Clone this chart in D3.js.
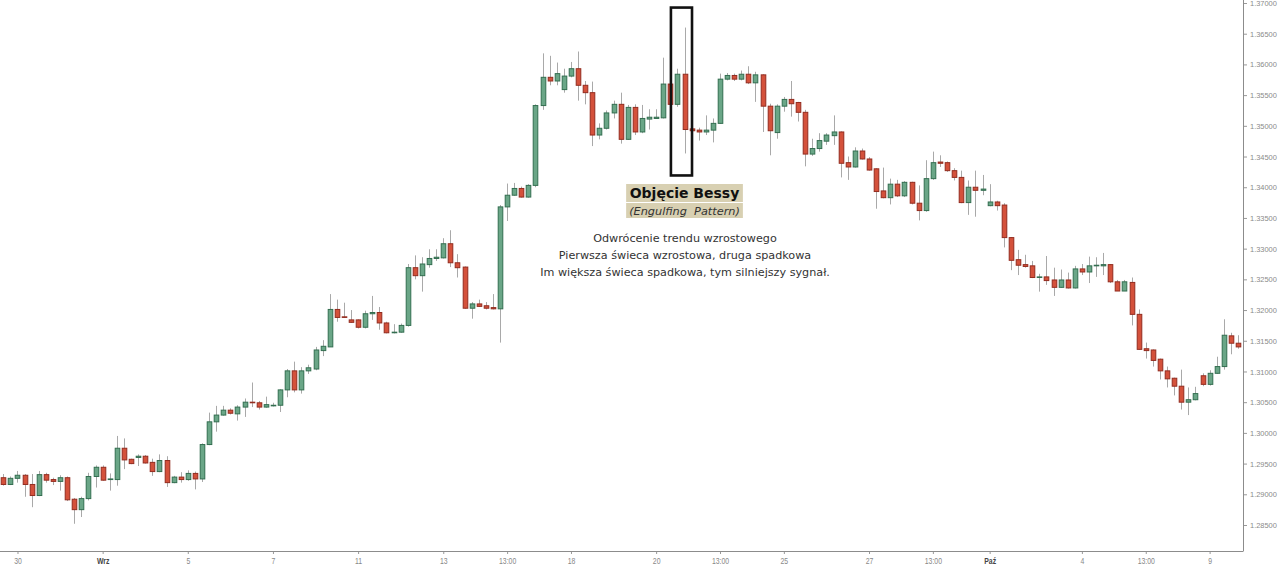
<!DOCTYPE html>
<html><head><meta charset="utf-8">
<script src="https://cdn.jsdelivr.net/npm/d3@7"></script>
<style>body{margin:0;background:#fff}svg{display:block}</style>
</head><body><svg id="c" width="1280" height="566"></svg>
<script>
const openP=[1.2927,1.2916,1.2926,1.2931,1.2916,1.2898,1.2932,1.2924,1.2921,1.2927,1.2892,1.2875,1.2893,1.2929,1.2944,1.2924,1.2924,1.2975,1.2957,1.2960,1.2962,1.2952,1.2937,1.2955,1.2919,1.2928,1.2924,1.2934,1.2925,1.2981,1.3018,1.3029,1.3037,1.3031,1.3042,1.3050,1.3049,1.3042,1.3044,1.3045,1.3070,1.3101,1.3070,1.3101,1.3104,1.3134,1.3140,1.3201,1.3189,1.3184,1.3184,1.3172,1.3194,1.3196,1.3179,1.3163,1.3164,1.3175,1.3269,1.3256,1.3274,1.3284,1.3285,1.3308,1.3277,1.3270,1.3203,1.3210,1.3207,1.3204,1.3202,1.3368,1.3387,1.3398,1.3384,1.3403,1.3533,1.3579,1.3573,1.3559,1.3581,1.3593,1.3566,1.3554,1.3485,1.3496,1.3521,1.3535,1.3478,1.3530,1.3490,1.3511,1.3512,1.3513,1.3568,1.3535,1.3584,1.3495,1.3493,1.3490,1.3493,1.3504,1.3576,1.3582,1.3576,1.3584,1.3570,1.3583,1.3532,1.3489,1.3532,1.3543,1.3538,1.3522,1.3454,1.3463,1.3475,1.3484,1.3490,1.3440,1.3433,1.3459,1.3446,1.3430,1.3394,1.3383,1.3405,1.3386,1.3408,1.3374,1.3362,1.3414,1.3441,1.3440,1.3427,1.3416,1.3375,1.3400,1.3395,1.3370,1.3376,1.3371,1.3318,1.3282,1.3274,1.3272,1.3253,1.3254,1.3249,1.3237,1.3249,1.3236,1.3267,1.3262,1.3272,1.3272,1.3274,1.3246,1.3231,1.3245,1.3193,1.3137,1.3135,1.3120,1.3101,1.3089,1.3076,1.3050,1.3054,1.3093,1.3079,1.3097,1.3108,1.3158,1.3146];
const highP=[1.2933,1.2929,1.2938,1.2933,1.2933,1.2938,1.2935,1.2927,1.2931,1.2929,1.2894,1.2896,1.2935,1.2947,1.2947,1.2934,1.2995,1.2991,1.2958,1.2965,1.2964,1.2958,1.2965,1.2962,1.2930,1.2936,1.2939,1.2937,1.2983,1.3033,1.3044,1.3044,1.3040,1.3045,1.3056,1.3082,1.3052,1.3059,1.3049,1.3071,1.3104,1.3116,1.3107,1.3111,1.3140,1.3151,1.3226,1.3217,1.3212,1.3200,1.3185,1.3199,1.3223,1.3205,1.3181,1.3177,1.3178,1.3275,1.3289,1.3286,1.3299,1.3299,1.3317,1.3330,1.3291,1.3271,1.3213,1.3217,1.3213,1.3226,1.3371,1.3406,1.3407,1.3401,1.3405,1.3535,1.3618,1.3614,1.3603,1.3593,1.3604,1.3621,1.3573,1.3572,1.3504,1.3525,1.3541,1.3554,1.3534,1.3535,1.3534,1.3527,1.3527,1.3611,1.3569,1.3593,1.3660,1.3496,1.3497,1.3517,1.3512,1.3585,1.3586,1.3585,1.3590,1.3597,1.3588,1.3584,1.3536,1.3535,1.3547,1.3573,1.3539,1.3526,1.3479,1.3488,1.3488,1.3517,1.3491,1.3450,1.3465,1.3463,1.3449,1.3431,1.3432,1.3414,1.3412,1.3410,1.3409,1.3403,1.3444,1.3458,1.3452,1.3442,1.3431,1.3427,1.3411,1.3427,1.3420,1.3405,1.3378,1.3374,1.3319,1.3298,1.3290,1.3280,1.3259,1.3288,1.3269,1.3266,1.3261,1.3272,1.3275,1.3287,1.3286,1.3293,1.3275,1.3249,1.3249,1.3253,1.3201,1.3147,1.3136,1.3121,1.3108,1.3090,1.3103,1.3074,1.3075,1.3097,1.3102,1.3124,1.3185,1.3163,1.3159];
const lowP=[1.2914,1.2915,1.2919,1.2896,1.2879,1.2897,1.2919,1.2915,1.2906,1.2889,1.2852,1.2863,1.2890,1.2911,1.2922,1.2906,1.2914,1.2941,1.2949,1.2946,1.2950,1.2930,1.2936,1.2912,1.2918,1.2919,1.2922,1.2908,1.2920,1.2980,1.3002,1.3028,1.3030,1.3020,1.3026,1.3042,1.3038,1.3041,1.3043,1.3034,1.3058,1.3066,1.3064,1.3096,1.3102,1.3125,1.3140,1.3181,1.3187,1.3179,1.3170,1.3170,1.3184,1.3168,1.3162,1.3162,1.3163,1.3173,1.3250,1.3230,1.3269,1.3280,1.3284,1.3270,1.3253,1.3202,1.3186,1.3205,1.3201,1.3201,1.3147,1.3345,1.3386,1.3383,1.3383,1.3400,1.3526,1.3566,1.3566,1.3554,1.3579,1.3541,1.3535,1.3467,1.3478,1.3494,1.3512,1.3471,1.3477,1.3485,1.3488,1.3494,1.3512,1.3512,1.3534,1.3531,1.3455,1.3491,1.3476,1.3485,1.3473,1.3503,1.3574,1.3573,1.3574,1.3568,1.3539,1.3490,1.3452,1.3479,1.3523,1.3515,1.3507,1.3434,1.3451,1.3458,1.3469,1.3469,1.3416,1.3412,1.3432,1.3445,1.3427,1.3365,1.3382,1.3372,1.3384,1.3384,1.3372,1.3346,1.3360,1.3412,1.3433,1.3425,1.3411,1.3374,1.3355,1.3352,1.3387,1.3369,1.3362,1.3302,1.3265,1.3257,1.3269,1.3252,1.3230,1.3241,1.3223,1.3236,1.3235,1.3235,1.3257,1.3244,1.3254,1.3257,1.3244,1.3231,1.3231,1.3175,1.3135,1.3121,1.3108,1.3087,1.3074,1.3061,1.3038,1.3029,1.3053,1.3076,1.3077,1.3096,1.3103,1.3128,1.3137];
const closeP=[1.2916,1.2926,1.2931,1.2916,1.2898,1.2932,1.2923,1.2921,1.2927,1.2891,1.2875,1.2893,1.2929,1.2944,1.2923,1.2925,1.2975,1.2956,1.2950,1.2962,1.2951,1.2937,1.2955,1.2919,1.2928,1.2924,1.2934,1.2925,1.2981,1.3018,1.3029,1.3037,1.3032,1.3042,1.3050,1.3049,1.3042,1.3046,1.3045,1.3070,1.3101,1.3070,1.3101,1.3106,1.3135,1.3141,1.3201,1.3188,1.3188,1.3180,1.3172,1.3194,1.3196,1.3179,1.3163,1.3164,1.3175,1.3269,1.3256,1.3275,1.3284,1.3286,1.3308,1.3277,1.3269,1.3203,1.3210,1.3206,1.3203,1.3202,1.3368,1.3387,1.3398,1.3384,1.3403,1.3533,1.3579,1.3573,1.3585,1.3581,1.3593,1.3566,1.3554,1.3485,1.3496,1.3521,1.3535,1.3478,1.3530,1.3490,1.3512,1.3514,1.3514,1.3568,1.3535,1.3584,1.3494,1.3492,1.3490,1.3493,1.3504,1.3576,1.3582,1.3576,1.3584,1.3570,1.3583,1.3532,1.3492,1.3532,1.3543,1.3536,1.3522,1.3454,1.3463,1.3476,1.3485,1.3490,1.3439,1.3433,1.3459,1.3446,1.3428,1.3393,1.3383,1.3405,1.3386,1.3408,1.3374,1.3362,1.3414,1.3440,1.3439,1.3427,1.3416,1.3375,1.3400,1.3395,1.3397,1.3376,1.3370,1.3318,1.3281,1.3273,1.3271,1.3253,1.3254,1.3248,1.3237,1.3249,1.3236,1.3267,1.3262,1.3272,1.3273,1.3274,1.3246,1.3231,1.3246,1.3193,1.3136,1.3134,1.3118,1.3101,1.3088,1.3076,1.3050,1.3054,1.3064,1.3079,1.3097,1.3108,1.3159,1.3146,1.3140];
const priceTicks=[1.285,1.29,1.295,1.30,1.305,1.31,1.315,1.32,1.325,1.33,1.335,1.34,1.345,1.35,1.355,1.36,1.365,1.37];
const timeTickIdx=[2,14,26,38,50,62,71,80,92,101,110,122,131,139,152,161,170];
const timeTickLabels=["30","Wrz","5","7","11","13","13:00","18","20","13:00","25","27","13:00","Paź","4","13:00","9"];
const monthLabels=["Wrz","Paź"];
const patternIdx=[95,96];
const titleText="Objęcie Bessy";
const subtitleText="(Engulfing  Pattern)";
const noteLines=["Odwrócenie trendu wzrostowego","Pierwsza świeca wzrostowa, druga spadkowa","Im większa świeca spadkowa, tym silniejszy sygnał."];

const data=openP.map((o,i)=>({i,o,h:highP[i],l:lowP[i],c:closeP[i]}));
const svg=d3.select("#c");
const axisX=1243, axisY=551;
const x=d3.scaleLinear().domain([0,174]).range([3.3,1238]);
const y=d3.scaleLinear().domain([1.285,1.37]).range([525,3]);

// wicks
svg.append("g").selectAll("line").data(data).join("line")
  .attr("x1",d=>Math.round(x(d.i))+0.5).attr("x2",d=>Math.round(x(d.i))+0.5)
  .attr("y1",d=>y(d.h)).attr("y2",d=>y(d.l))
  .attr("stroke","#a9a9a9").attr("stroke-width",1);
// bodies
svg.append("g").selectAll("rect").data(data).join("rect")
  .attr("x",d=>Math.round(x(d.i))+0.5-2.3).attr("width",4.6)
  .attr("y",d=>y(Math.max(d.o,d.c))).attr("height",d=>Math.max(0.6,Math.abs(y(d.o)-y(d.c))))
  .attr("fill",d=>d.c>=d.o?"#6aa687":"#d4513b")
  .attr("stroke",d=>d.c>=d.o?"#336e50":"#932c1f").attr("stroke-width",1);

// axes
const gy=svg.append("g").attr("transform",`translate(${axisX},0)`)
  .call(d3.axisRight(y).tickValues(priceTicks).tickFormat(d3.format(".5f")).tickSize(4).tickPadding(3));
gy.select(".domain").remove();
gy.selectAll(".tick line").attr("stroke","#999");
gy.selectAll(".tick text").attr("fill","#8a8a8a").style("font-family","Liberation Sans, Arial, sans-serif").style("font-size","8px");
svg.append("line").attr("x1",axisX+0.5).attr("x2",axisX+0.5).attr("y1",0).attr("y2",axisY).attr("stroke","#8c8c8c");

const gx=svg.append("g").attr("transform",`translate(0,${axisY})`)
  .call(d3.axisBottom(x).tickValues(timeTickIdx).tickFormat((d,i)=>timeTickLabels[i]).tickSize(3).tickPadding(4));
gx.select(".domain").remove();
gx.selectAll(".tick line").attr("stroke","#999");
gx.selectAll(".tick text").attr("fill",(d,i)=>monthLabels.includes(timeTickLabels[i])?"#444":"#888")
  .style("font-weight",(d,i)=>monthLabels.includes(timeTickLabels[i])?"bold":"normal")
  .style("font-family","Liberation Sans, Arial, sans-serif").style("font-size","8.6px");
svg.append("line").attr("x1",0).attr("x2",axisX+0.5).attr("y1",axisY+0.5).attr("y2",axisY+0.5).attr("stroke","#8c8c8c");

// narrow glyphs like the reference
gx.selectAll(".tick text").each(function(){const w=this.getComputedTextLength();d3.select(this).attr("textLength",w*0.8).attr("lengthAdjust","spacingAndGlyphs");});
gy.selectAll(".tick text").each(function(){const w=this.getComputedTextLength();d3.select(this).attr("textLength",w*0.93).attr("lengthAdjust","spacingAndGlyphs");});

// annotation box
const pHigh=d3.max(patternIdx,i=>highP[i]), pLow=d3.min(patternIdx,i=>lowP[i]);
const bx0=x(patternIdx[0])-6.5, bx1=x(patternIdx[1])+7.5;
svg.append("rect").attr("x",bx0).attr("y",y(pHigh)-20).attr("width",bx1-bx0).attr("height",y(pLow)-y(pHigh)+42)
  .attr("fill","none").attr("stroke","#111").attr("stroke-width",2.6);

const cx=x(patternIdx[1]);
const gA=svg.append("g");
const bgT=gA.append("rect").attr("fill","#d8d0b2");
const bgS=gA.append("rect").attr("fill","#d8d0b2");
const t1=gA.append("text").attr("x",cx).attr("y",198).attr("text-anchor","middle")
  .style("font-family","DejaVu Sans, Verdana, sans-serif").style("font-weight","bold").style("font-size","14px").attr("fill","#111").text(titleText);
const t2=gA.append("text").attr("x",cx).attr("y",214.5).attr("text-anchor","middle").attr("xml:space","preserve").style("white-space","pre")
  .style("font-family","DejaVu Sans, Verdana, sans-serif").style("font-style","italic").style("font-size","11.3px").attr("fill","#333").text(subtitleText);
const w=Math.max(t1.node().getComputedTextLength(),t2.node().getComputedTextLength())+6;
bgT.attr("x",cx-w/2).attr("y",184).attr("width",w).attr("height",18);
bgS.attr("x",cx-w/2).attr("y",203).attr("width",w).attr("height",15);

gA.selectAll("text.note").data(noteLines).join("text").attr("class","note")
  .attr("x",cx+0.5).attr("y",(d,i)=>242+i*17).attr("text-anchor","middle")
  .style("font-family","DejaVu Sans, Verdana, sans-serif").style("font-size","11.2px").attr("fill","#333").text(d=>d);
</script></body></html>
